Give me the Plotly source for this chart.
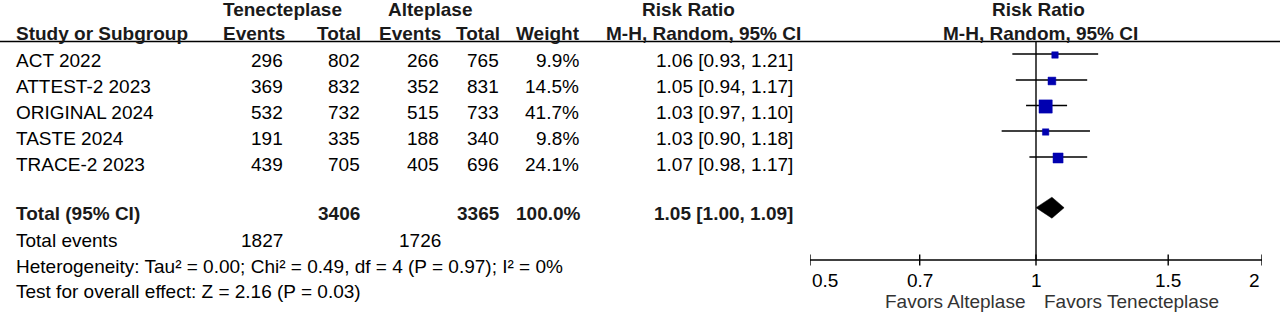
import plotly.graph_objects as go
import math

# ---------------- data ----------------
studies = ["ACT 2022", "ATTEST-2 2023", "ORIGINAL 2024", "TASTE 2024", "TRACE-2 2023"]
tnk_events = [296, 369, 532, 191, 439]
tnk_total = [802, 832, 732, 335, 705]
alt_events = [266, 352, 515, 188, 405]
alt_total = [765, 831, 733, 340, 696]
weights = [9.9, 14.5, 41.7, 9.8, 24.1]
rr = [1.06, 1.05, 1.03, 1.03, 1.07]
rr_lo = [0.93, 0.94, 0.97, 0.90, 0.98]
rr_hi = [1.21, 1.17, 1.10, 1.18, 1.17]
pooled = [1.05, 1.00, 1.09]
total_tnk = 3406
total_alt = 3365
events_tnk = 1827
events_alt = 1726
axis_ticks = [0.5, 0.7, 1, 1.5, 2]
heterogeneity = "Heterogeneity: Tau² = 0.00; Chi² = 0.49, df = 4 (P = 0.97); I² = 0%"
overall = "Test for overall effect: Z = 2.16 (P = 0.03)"

# ---------------- layout helpers ----------------
W, H = 1280, 313
FONT = "Liberation Sans, Arial, sans-serif"
FS = 19
text_y = [60.5, 86.5, 112.5, 138, 164]
mark_y = [54, 80, 105.5, 131, 157]
total_y = 213
diamond_y = 207.7
events_y = 240.5
het_y = 266.5
test_y = 291.5
hdr1_y = 9
hdr2_y = 33.5
axis_y = 260
line_y = 41.5

fig = go.Figure()
ann = []


def txt(x, y, s, anchor="left", bold=False, size=FS, color="#000000"):
    ann.append(dict(x=x / W, y=y, xref="paper", yref="y", text=("<b>%s</b>" % s) if bold else s,
                    showarrow=False, xanchor=anchor, yanchor="middle",
                    font=dict(family=FONT, size=size, color=color)))


HC = "#1a1a1a"
# headers
txt(282.5, hdr1_y, "Tenecteplase", "center", True, color=HC)
txt(430, hdr1_y, "Alteplase", "center", True, color=HC)
txt(688, hdr1_y, "Risk Ratio", "center", True, color=HC)
txt(1038, hdr1_y, "Risk Ratio", "center", True, color=HC)
txt(14, hdr2_y, "Study or Subgroup", "left", True, color=HC)
txt(287, hdr2_y, "Events", "right", True, color=HC)
txt(363, hdr2_y, "Total", "right", True, color=HC)
txt(443, hdr2_y, "Events", "right", True, color=HC)
txt(502, hdr2_y, "Total", "right", True, color=HC)
txt(582, hdr2_y, "Weight", "right", True, color=HC)
txt(703.5, hdr2_y, "M-H, Random, 95% CI", "center", True, color=HC)
txt(1040.5, hdr2_y, "M-H, Random, 95% CI", "center", True, color=HC)

# study rows
for i, s in enumerate(studies):
    y = text_y[i]
    txt(14, y, s)
    txt(285, y, str(tnk_events[i]), "right")
    txt(362, y, str(tnk_total[i]), "right")
    txt(441, y, str(alt_events[i]), "right")
    txt(501, y, str(alt_total[i]), "right")
    txt(581, y, "%.1f%%" % weights[i], "right")
    txt(795, y, "%.2f [%.2f, %.2f]" % (rr[i], rr_lo[i], rr_hi[i]), "right")

# totals
txt(14, total_y, "Total (95% CI)", "left", True, color=HC)
txt(362, total_y, str(total_tnk), "right", True, color=HC)
txt(502, total_y, str(total_alt), "right", True, color=HC)
txt(583, total_y, "100.0%", "right", True, color=HC)
txt(795, total_y, "%.2f [%.2f, %.2f]" % tuple(pooled), "right", True, color=HC)
txt(14, events_y, "Total events")
txt(285, events_y, str(events_tnk), "right")
txt(443, events_y, str(events_alt), "right")
txt(14, het_y, heterogeneity)
txt(14, test_y, overall)

# ---------------- forest plot ----------------
# CI lines
for i in range(len(studies)):
    fig.add_trace(go.Scatter(x=[rr_lo[i], rr_hi[i]], y=[mark_y[i], mark_y[i]], mode="lines",
                             line=dict(color="#000000", width=1.6), showlegend=False, hoverinfo="skip"))
# squares
fig.add_trace(go.Scatter(x=rr, y=[m + 1 for m in mark_y], mode="markers",
                         marker=dict(symbol="square", color="#0000B0", opacity=1,
                                     size=[2.05 * math.sqrt(w) for w in weights],
                                     line=dict(width=0.5, color="#0000B0")),
                         showlegend=False, hoverinfo="skip"))
# null line
fig.add_trace(go.Scatter(x=[1, 1], y=[line_y, axis_y], mode="lines",
                         line=dict(color="#000000", width=1.4), showlegend=False, hoverinfo="skip"))
# diamond
fig.add_trace(go.Scatter(x=[pooled[1], pooled[0], pooled[2], pooled[0], pooled[1]],
                         y=[diamond_y, diamond_y - 10.5, diamond_y, diamond_y + 10.5, diamond_y],
                         mode="lines", fill="toself", fillcolor="#000000",
                         line=dict(color="#000000", width=0.5), showlegend=False, hoverinfo="skip"))
# axis line
fig.add_trace(go.Scatter(x=[axis_ticks[0], axis_ticks[-1]], y=[axis_y, axis_y], mode="lines",
                         line=dict(color="#000000", width=1.4), showlegend=False, hoverinfo="skip"))
for t in axis_ticks:
    fig.add_trace(go.Scatter(x=[t, t], y=[axis_y - 5.5, axis_y + 5.5], mode="lines",
                             line=dict(color="#000000", width=1.4), showlegend=False, hoverinfo="skip"))
    anchor = "center"
    if t == axis_ticks[0]:
        anchor = "left"
    elif t == axis_ticks[-1]:
        anchor = "right"
    ann.append(dict(x=math.log10(t), y=axis_y + 20, xref="x", yref="y", text="%g" % t, showarrow=False,
                    xanchor=anchor, yanchor="middle",
                    font=dict(family=FONT, size=FS, color="#000000")))

ann.append(dict(x=0, y=301.5, xref="x", yref="y", text="Favors Alteplase", showarrow=False,
                xanchor="right", yanchor="middle", xshift=-10, borderpad=0,
                font=dict(family=FONT, size=FS, color="#333333")))
ann.append(dict(x=0, y=301.5, xref="x", yref="y", text="Favors Tenecteplase", showarrow=False,
                xanchor="left", yanchor="middle", xshift=7, borderpad=0,
                font=dict(family=FONT, size=FS, color="#333333")))

shapes = [dict(type="line", xref="paper", yref="y", x0=0, x1=1, y0=line_y, y1=line_y,
               line=dict(color="#000000", width=1.6))]

fig.update_layout(
    width=W, height=H, margin=dict(l=0, r=0, t=0, b=0),
    paper_bgcolor="#ffffff", plot_bgcolor="#ffffff",
    xaxis=dict(type="log", range=[math.log10(axis_ticks[0]), math.log10(axis_ticks[-1])],
               domain=[810 / W, 1262 / W], visible=False),
    yaxis=dict(range=[H, 0], domain=[0, 1], visible=False),
    annotations=ann, shapes=shapes, showlegend=False,
)

fig.write_html("out.html", config={"displayModeBar": False},
               post_script="document.body.style.margin='0';document.body.style.overflow='hidden';")
